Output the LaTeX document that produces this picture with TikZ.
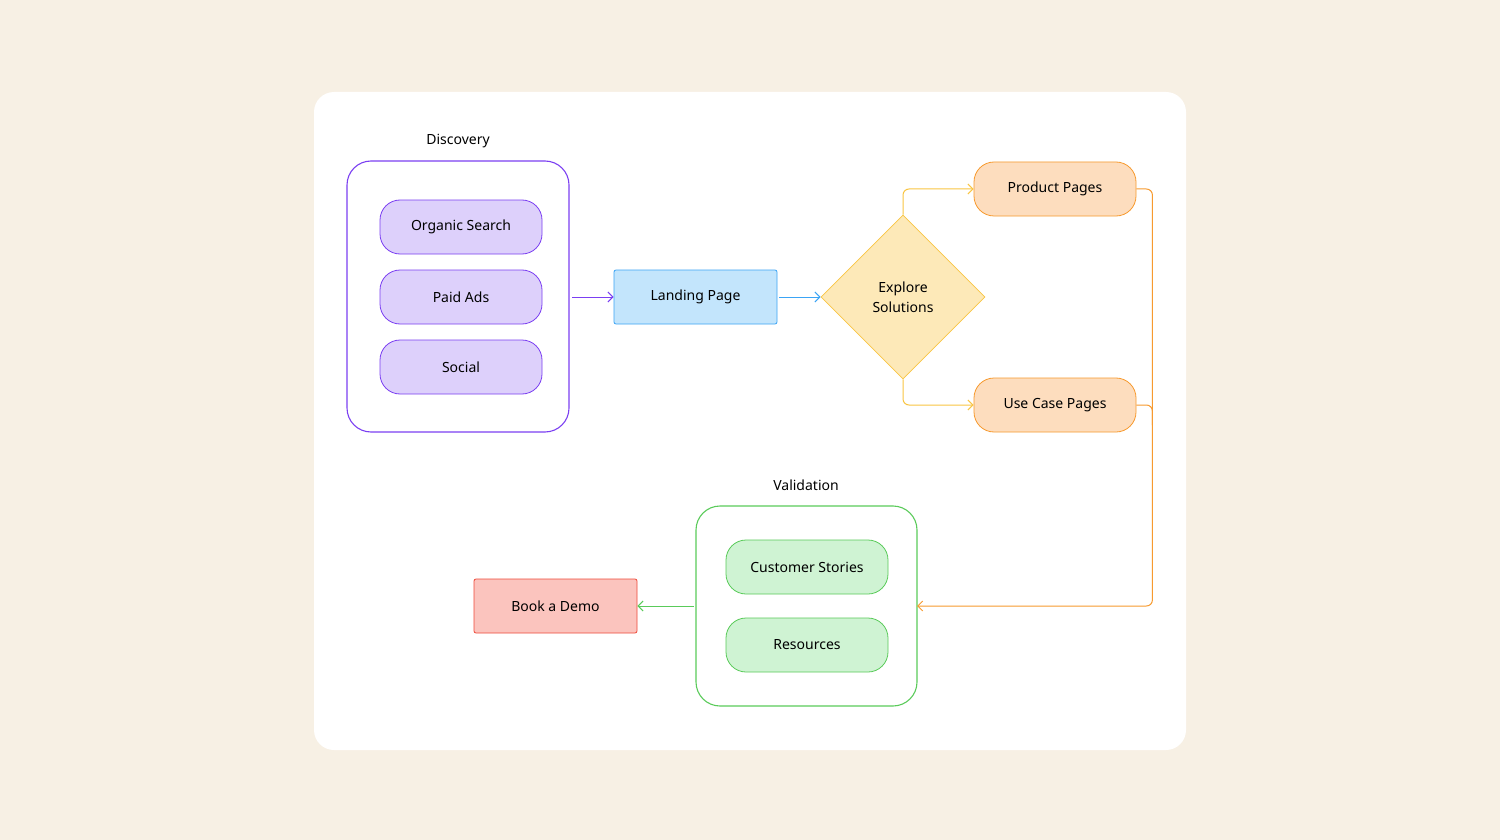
\documentclass[tikz,border=0pt]{standalone}
\usepackage{fontspec}
\setmainfont{Noto Sans}
\usetikzlibrary{arrows.meta,shapes.geometric,positioning}

\definecolor{paper}{HTML}{F7F0E4}
\definecolor{discline}{HTML}{7B3FF2}
\definecolor{discfill}{HTML}{DDD0FB}
\definecolor{landline}{HTML}{3BA4F5}
\definecolor{landfill}{HTML}{C3E5FC}
\definecolor{exline}{HTML}{F9C543}
\definecolor{exfill}{HTML}{FDE9B8}
\definecolor{pageline}{HTML}{F79A2F}
\definecolor{pagefill}{HTML}{FDDDBE}
\definecolor{valline}{HTML}{5ACB5A}
\definecolor{valfill}{HTML}{CFF3D3}
\definecolor{demoline}{HTML}{EF4A3A}
\definecolor{demofill}{HTML}{FBC4BE}

\tikzset{
  step/.style={draw=#1line,fill=#1fill,rounded corners=10pt,minimum width=81pt,
    minimum height=27pt,inner sep=0pt,font=\fontsize{7}{8}\selectfont},
  box/.style={draw=#1line,fill=#1fill,rounded corners=1pt,minimum width=81.5pt,
    minimum height=27pt,inner sep=0pt,font=\fontsize{7}{8}\selectfont},
  group/.style={draw=#1line,rounded corners=12pt,line width=0.55pt},
  title/.style={font=\fontsize{7}{8}\selectfont},
  flow/.style={draw=#1line,line width=0.5pt,-{Straight Barb[length=2.5pt,width=5pt]},rounded corners=3pt}
}

\begin{document}
\begin{tikzpicture}[x=0.5pt,y=-0.5pt]
  \path[use as bounding box,fill=paper] (0,0) rectangle (1500,840);
  \fill[white,rounded corners=10pt] (314,92) rectangle (1186,750);

  % discovery
  \node[title] (disctitle) at (458,141) {Discovery};
  \draw[group=disc] (347,161) rectangle (569,432);
  \coordinate (disc) at (569,297);
  \node[step=disc] (organic) at (461,227) {Organic Search};
  \node[step=disc] (paid) at (461,297) {Paid Ads};
  \node[step=disc] (social) at (461,367) {Social};

  \node[box=land] (landing) at (695.5,297) {Landing Page};

  \node[diamond,draw=exline,fill=exfill,minimum width=82pt,minimum height=82pt,inner sep=0pt,
    align=center,font=\fontsize{7}{10}\selectfont] (explore) at (903,297) {Explore\\Solutions};

  \node[step=page] (product) at (1055,189) {Product Pages};
  \node[step=page] (usecase) at (1055,405) {Use Case Pages};

  % validation
  \node[title] (valtitle) at (806,485) {Validation};
  \draw[group=val] (696,506) rectangle (917,706);
  \coordinate (valin) at (917,606);
  \coordinate (valout) at (696,606);
  \node[step=val] (stories) at (807,567) {Customer Stories};
  \node[step=val] (resources) at (807,645) {Resources};

  \node[box=demo] (demo) at (555.5,606) {Book a Demo};

  \draw[flow=disc] (disc) ++(3,0) -- (landing.west);
  \draw[flow=land] (landing.east) ++(2,0) -- (explore.west);
  \draw[flow=ex] (explore.north) |- (product.west);
  \draw[flow=ex] (explore.south) |- (usecase.west);
  \draw[flow=page] (product.east) -- ++(16,0) |- (valin);
  \draw[draw=pageline,line width=0.5pt,rounded corners=3pt] (usecase.east) -- ++(16,0) -- ++(0,20);
  \draw[flow=val] (valout) ++(-2,0) -- (demo.east);
\end{tikzpicture}
\end{document}
